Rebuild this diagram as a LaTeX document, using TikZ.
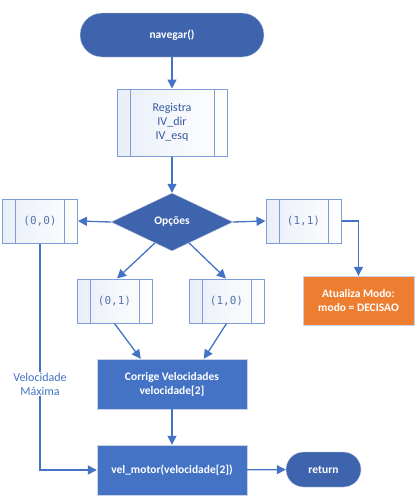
\documentclass[tikz,border=0pt]{standalone}
\usepackage{fontspec}
\setmainfont{Carlito}
\newfontfamily\monofont{DejaVu Sans Mono}
\usetikzlibrary{arrows.meta, calc, shapes.geometric}

\definecolor{linha}{HTML}{4472C4}
\definecolor{escuro}{HTML}{3E64AD}
\definecolor{laranja}{HTML}{ED7D31}
\definecolor{borda}{HTML}{7E9CD6}
\definecolor{cinza}{HTML}{C9D3E6}

\begin{document}
\begin{tikzpicture} [x=1pt, y=-1pt,
	font=\fontsize{12}{14}\selectfont,
	seta/.style={draw=linha, line width=1.3pt, -{Triangle[width=9pt, length=9pt]}},
	terminal/.style={draw=cinza, fill=escuro, text=white, font=\bfseries\fontsize{11.5}{14}\selectfont,
		rounded corners=#1, inner sep=0pt},
	processo/.style={draw=cinza, fill=linha, text=white, font=\bfseries\fontsize{11.5}{14}\selectfont,
		minimum width=150pt, minimum height=50pt, inner sep=0pt, align=center},
	sub/.style={draw=borda, line width=1pt, left color=linha!12, right color=white, text=linha!80!black,
		minimum width=75pt, minimum height=44pt, inner sep=0pt, align=center,
		path picture={
			\draw[borda, line width=1pt] ([xshift=13pt]path picture bounding box.north west) -- ([xshift=13pt]path picture bounding box.south west);
			\draw[borda, line width=1pt] ([xshift=-13pt]path picture bounding box.north east) -- ([xshift=-13pt]path picture bounding box.south east);
		}},
	par/.style={sub, font=\monofont\fontsize{11}{13}\selectfont, text=linha!70!gray}]
	
	\useasboundingbox (0,0) rectangle (417,499);
	
	\node[terminal=22pt, minimum width=184pt, minimum height=44pt] (nav) at (172,35) {navegar()};
	\node[sub, minimum width=110pt, minimum height=67pt] (reg) at (172,122.5) {Registra\\IV\_dir\\IV\_esq};
	\node[diamond, draw=cinza, fill=escuro, text=white, font=\bfseries\fontsize{11.5}{14}\selectfont,
		minimum width=122pt, minimum height=58pt, inner sep=0pt] (opc) at (172,222) {Opções};
	
	% pares de sensores
	\node[par] (p00) at (40,221) {(0,0)};
	\node[par] (p11) at (303.5,221) {(1,1)};
	\node[par] (p01) at (114.5,301) {(0,1)};
	\node[par] (p10) at (226.5,301) {(1,0)};
	
	\node[draw=cinza, fill=laranja, text=white, font=\bfseries\fontsize{11.5}{14}\selectfont,
		minimum width=111pt, minimum height=49pt, inner sep=0pt, align=center] (atu) at (358.5,300.5) {Atualiza Modo:\\modo = DECISAO};
	\node[processo] (cor) at (172,384) {Corrige Velocidades\\velocidade[2]};
	\node[processo] (vel) at (172,470) {vel\_motor(velocidade[2])};
	\node[terminal=17.5pt, minimum width=75pt, minimum height=35pt] (ret) at (323.5,469.5) {return};
	
	\draw[seta] (nav) -- (reg);
	\draw[seta] (reg) -- (opc);
	\draw[seta] (opc.west) -- (p00.east);
	\draw[seta] (opc.east) -- (p11.east -| p11.west);
	\draw[seta] (p11.east) -| (atu.north);
	\draw[seta] ($(opc.west)!0.72!(opc.south)$) -- (p01.north -| 117,0);
	\draw[seta] ($(opc.east)!0.72!(opc.south)$) -- (p10.north -| 226,0);
	\draw[seta] (p01.south) -- ([xshift=44pt]cor.north west);
	\draw[seta] (p10.south) -- ([xshift=107pt]cor.north west);
	\draw[seta] (cor) -- (vel);
	\draw[seta] (p00.south) |- node[pos=0.31, fill=white, text=linha, align=center, inner sep=1pt] {Velocidade\\Máxima} (vel.west);
	\draw[seta] (vel) -- (ret);
	
\end{tikzpicture}
\end{document}
